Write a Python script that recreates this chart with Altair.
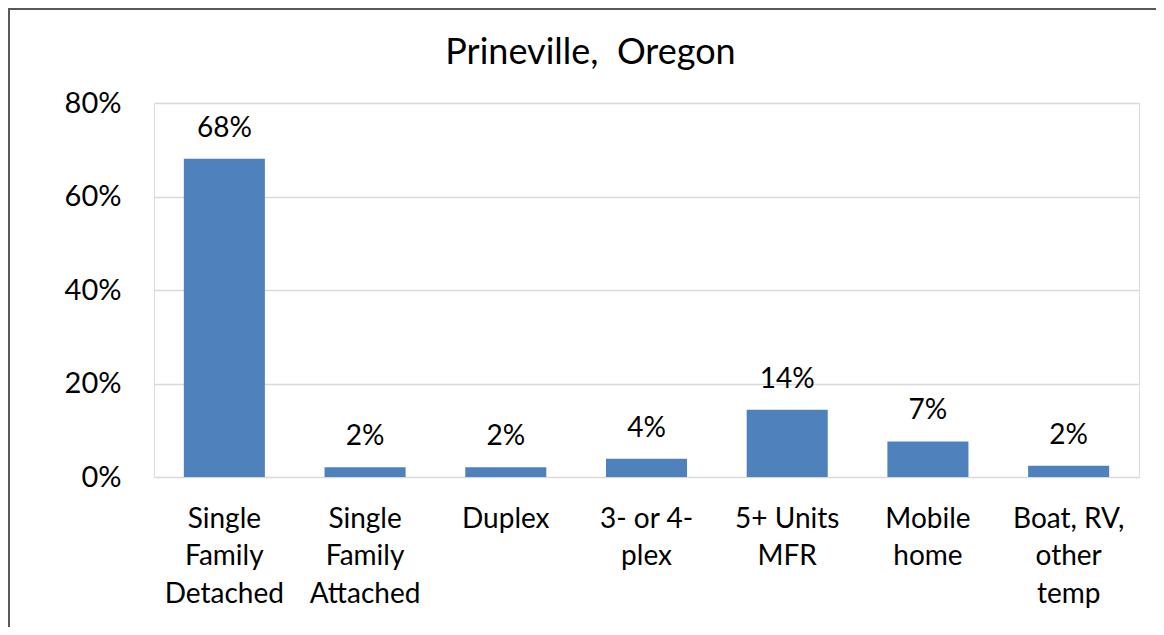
import altair as alt
import pandas as pd

categories = [
    "Single\nFamily\nDetached",
    "Single\nFamily\nAttached",
    "Duplex",
    "3- or 4-\nplex",
    "5+ Units\nMFR",
    "Mobile\nhome",
    "Boat, RV,\nother\ntemp",
]
shares = [0.681, 0.021, 0.021, 0.039, 0.144, 0.076, 0.024]
value_labels = ["68%", "2%", "2%", "4%", "14%", "7%", "2%"]
y_ticks = [0, 0.2, 0.4, 0.6, 0.8]

df = pd.DataFrame({"cat": categories, "share": shares, "lbl": value_labels})

FONT = "Lato"
W, H = 985, 374

x_enc = alt.X(
    "cat:N",
    sort=categories,
    scale=alt.Scale(paddingInner=0.424, paddingOuter=0.212),
    axis=alt.Axis(
        title=None,
        labelAngle=0,
        labelExpr="split(datum.label, '\\n')",
        labelFont=FONT,
        labelFontSize=28,
        labelLineHeight=37.5,
        labelColor="#000000",
        labelPadding=28,
        ticks=False,
        domain=False,
        grid=False,
    ),
)
y_enc = alt.Y(
    "share:Q",
    scale=alt.Scale(domain=[0, 0.8], nice=False),
    axis=alt.Axis(
        title=None,
        values=y_ticks,
        format=".0%",
        labelFont=FONT,
        labelFontSize=29,
        labelColor="#000000",
        labelPadding=33,
        ticks=False,
        domain=False,
        grid=True,
        gridColor="#D9D9D9",
        gridWidth=1.3,
    ),
)

base = alt.Chart(df)
bars = base.mark_bar(color="#4F81BD").encode(x=x_enc, y=y_enc)
labels = base.mark_text(
    font=FONT, fontSize=28, color="#000000", baseline="bottom", dy=-16
).encode(x=alt.X("cat:N", sort=categories), y="share:Q", text="lbl:N")

frame_left = base.mark_rule(color="#595959", strokeWidth=2).encode(
    x=alt.value(-145), y=alt.value(-96), y2=alt.value(H + 160)
)
frame_top = base.mark_rule(color="#595959", strokeWidth=2).encode(
    x=alt.value(-146), x2=alt.value(W + 20), y=alt.value(-94)
)

chart = (
    alt.layer(bars, labels, frame_left, frame_top)
    .properties(
        width=W,
        height=H,
        autosize=alt.AutoSizeParams(type="none"),
        padding={"left": 146, "top": 95, "right": 17, "bottom": 150},
        title=alt.TitleParams(
            "Prineville,\u00a0 Oregon",
            font=FONT,
            fontSize=36,
            fontWeight="normal",
            color="#000000",
            anchor="middle",
            dx=-56,
            dy=66,
            offset=0,
        ),
    )
    .configure_view(stroke=None)
    .configure(background="white")
)

chart.save("out.html", embed_options={"renderer": "svg", "actions": False})
